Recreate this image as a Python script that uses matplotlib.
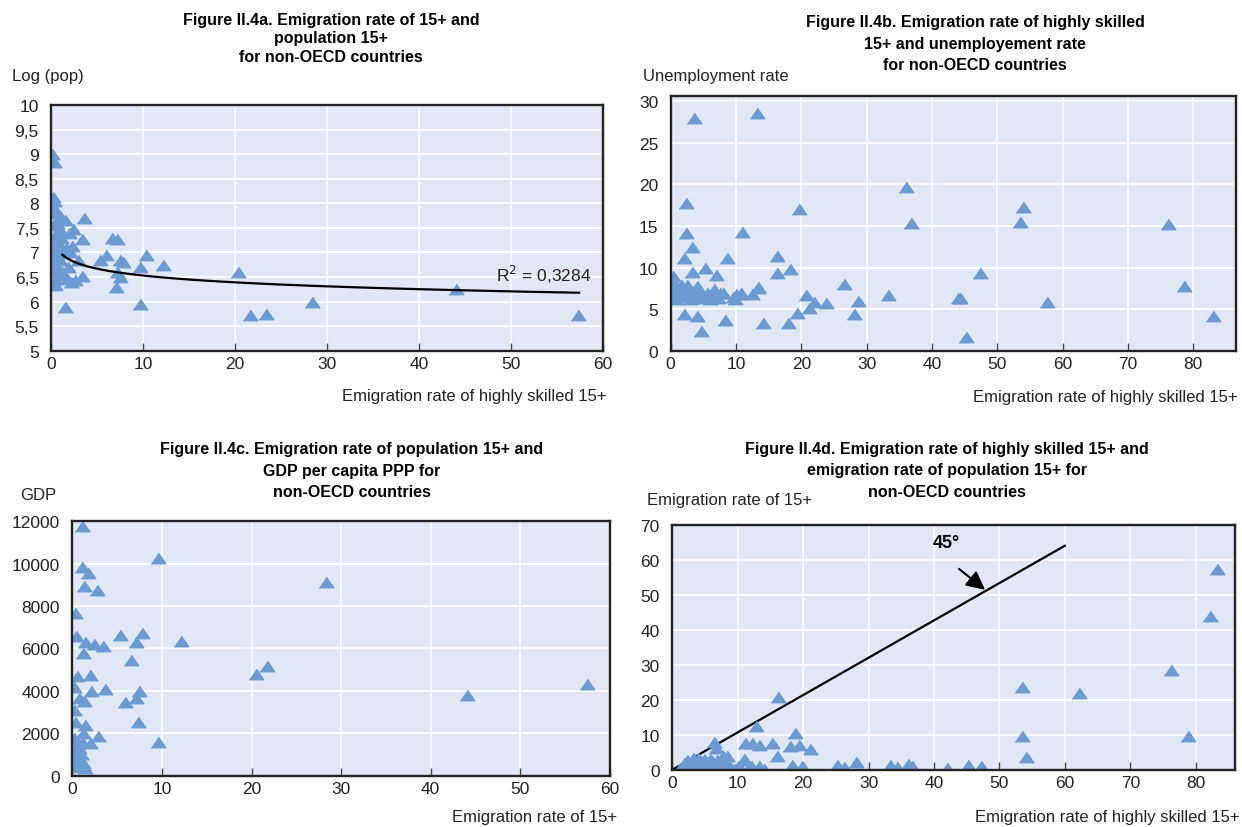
import numpy as np
import matplotlib.pyplot as plt
from matplotlib.ticker import FuncFormatter

plt.rcParams['font.family'] = ['Liberation Sans', 'DejaVu Sans']

# Figure II.4a: emigration rate of highly skilled 15+ vs log population
a_x = [0.1, 0.3, 0.2, 0.3, 0.3, 0.4, 0.2, 0.6, 1.5, 3.6, 2.4, 0.9, 0.3, 1.1, 3.3,
       6.6, 7.1, 0.0, 0.5, 0.95, 2.2, 1.6, 0.2, 0.7, 1.3, 2.0, 0.4, 1.0, 5.9, 5.3,
       2.9, 7.5, 7.8, 10.3, 12.1, 9.6, 0.1, 0.6, 1.8, 7.1, 7.5, 7.0, 3.3, 2.6, 1.7,
       0.4, 0.4, 1.5, 9.6, 20.3, 21.6, 23.3, 28.3, 44.0, 57.3, 0.8, 1.2, 0.2, 2.1,
       0.9, 0.5, 1.9, 0.0]
a_y = [9.0, 8.85, 8.13, 8.05, 7.9, 7.8, 7.55, 7.6, 7.65, 7.7, 7.48, 7.45, 7.3, 7.3, 7.28,
       7.3, 7.27, 7.2, 7.15, 7.14, 7.14, 7.1, 7.05, 7.0, 6.98, 7.0, 6.9, 6.85, 6.94, 6.84,
       6.84, 6.84, 6.8, 6.94, 6.75, 6.7, 6.75, 6.7, 6.7, 6.6, 6.5, 6.29, 6.53, 6.43, 6.46,
       6.46, 6.33, 5.89, 5.95, 6.61, 5.73, 5.75, 5.99, 6.26, 5.73, 6.55, 6.6, 6.6, 6.4,
       7.75, 7.4, 7.4, 6.9]
# logarithmic trend line
trend_a = 6.99
trend_b = -0.20
trend_x = [1.2, 57.4]
r2_label = "R$^2$ = 0,3284"

# Figure II.4b: emigration rate of highly skilled 15+ vs unemployment rate
b_x = [3.5, 13.2, 2.4, 19.7, 36.0, 36.8, 2.4, 10.9, 3.2, 2.1, 8.6, 16.3, 3.2, 5.3,
       7.0, 16.3, 18.3, 0.4, 26.6, 4.0, 13.4, 33.3, 20.7, 21.9, 23.8, 28.6, 21.1, 12.4,
       10.6, 9.9, 7.6, 6.0, 2.1, 4.1, 8.3, 4.6, 14.1, 18.0, 19.3, 28.0, 44.0, 53.9,
       53.5, 76.1, 47.3, 44.3, 57.6, 78.6, 83.0, 45.2, 0.0, 5.6, 6.6, 10.0, 10.7,
       13.3, 0.2, 0.5, 0.8, 1.2, 1.5, 0.3, 0.7, 1.9, 2.3, 2.8, 3.4, 3.8, 4.4, 1.0,
       0.1, 2.5, 3.0, 1.6, 4.0, 5.0, 6.2, 7.2, 8.0, 9.5]
b_y = [28.0, 28.6, 17.8, 17.1, 19.7, 15.4, 14.1, 14.3, 12.5, 11.2, 11.2, 11.4, 9.5, 10.0,
       9.1, 9.3, 9.8, 9.0, 8.0, 7.8, 7.7, 6.7, 6.7, 5.9, 5.8, 6.0, 5.1, 6.8,
       6.8, 6.2, 7.0, 6.2, 4.4, 4.2, 3.7, 2.4, 3.3, 3.3, 4.5, 4.4, 6.4, 17.3,
       15.5, 15.2, 9.3, 6.3, 5.9, 7.8, 4.2, 1.7, 7.8, 7.0, 7.4, 6.8, 7.0,
       7.6, 8.5, 8.0, 7.5, 7.2, 6.8, 6.5, 6.2, 7.6, 6.9, 6.5, 7.2, 6.4, 7.0, 6.6,
       7.1, 7.9, 6.2, 7.9, 6.7, 6.5, 6.6, 6.4, 6.9, 6.5]

# Figure II.4c: emigration rate of population 15+ vs GDP per capita PPP
c_x = [1.05, 9.6, 1.05, 1.8, 1.3, 2.8, 0.3, 28.3, 0.4, 5.3, 7.75, 7.1, 12.1, 1.4,
       2.4, 3.4, 1.15, 6.6, 20.5, 21.7, 0.5, 2.0, 0.2, 3.65, 2.05, 7.4, 7.1, 5.9,
       0.7, 1.3, 0.2, 7.3, 0.3, 1.4, 2.9, 9.6, 2.0, 1.2, 44.1, 57.4, 0.2, 0.5,
       0.3, 0.8, 1.0, 0.4, 0.6, 1.2, 0.3, 0.9, 1.4, 0.5, 1.1, 0.2]
c_y = [11765, 10255, 9830, 9560, 8935, 8775, 7660, 9120, 6600, 6640, 6730, 6290, 6370, 6290,
       6210, 6130, 5790, 5460, 4800, 5160, 4720, 4750, 4200, 4090, 4010, 4010, 3650, 3460,
       3650, 3540, 3080, 2550, 2550, 2390, 1890, 1600, 1530, 2010, 3800, 4330, 1800, 1500,
       1200, 1300, 1000, 900, 700, 600, 500, 400, 350, 1100, 1600, 700]

# Figure II.4d: emigration rate of highly skilled 15+ vs emigration rate of 15+
d_x = [16.1, 12.8, 6.4, 6.7, 11.1, 12.2, 13.2, 15.2, 16.0, 18.7, 18.0, 19.3, 21.0, 10.9,
       8.3, 7.6, 4.0, 13.2, 14.0, 18.3, 19.8, 25.2, 26.3, 28.0, 33.3, 34.4, 36.0, 36.7,
       42.0, 83.3, 82.2, 76.2, 62.2, 53.5, 53.5, 78.8, 54.0, 45.2, 47.2,
       1.0, 1.5, 2.0, 2.5, 3.0, 3.5, 4.0, 4.5, 5.0, 5.5, 6.0, 6.5, 7.0, 7.5, 8.0,
       8.5, 9.0, 9.5, 10.0, 10.5, 2.2, 3.2, 1.8, 4.8, 5.8, 6.8, 11.5, 12.0, 7.8, 3.8,
       3.7, 10.9]
d_y = [20.7, 12.4, 7.8, 6.1, 7.5, 7.5, 7.1, 7.5, 4.0, 10.5, 6.7, 7.1, 5.9, 3.1,
       4.0, 3.5, 3.3, 1.1, 0.2, 1.3, 1.0, 1.3, 0.7, 2.3, 1.3, 0.7, 1.6, 1.1,
       0.4, 57.3, 44.0, 28.6, 21.8, 23.5, 9.7, 9.7, 3.5, 1.4, 1.1,
       0.3, 0.8, 0.5, 1.2, 2.0, 1.0, 0.4, 1.5, 2.2, 1.0, 2.5, 0.6, 1.8, 0.9, 2.6,
       1.3, 0.5, 0.3, 1.0, 0.2, 2.8, 3.3, 1.8, 3.0, 3.2, 2.9, 0.6, 1.2, 3.8, 0.2,
       3.1, 2.8]
diag_x = [0, 60]
diag_y = [0, 64]

titles = {
    'a': ["Figure II.4a. Emigration rate of 15+ and", "population 15+", "for non-OECD countries"],
    'b': ["Figure II.4b. Emigration rate of highly skilled", "15+ and unemployement rate",
          "for non-OECD countries"],
    'c': ["Figure II.4c. Emigration rate of population 15+ and", "GDP per capita PPP for",
          "non-OECD countries"],
    'd': ["Figure II.4d. Emigration rate of highly skilled 15+ and",
          "emigration rate of population 15+ for", "non-OECD countries"],
}

blue = '#6b9bd2'
bg = '#e1e7f4'
ink = '#222222'
tri = [(-1, -0.72), (1, -0.72), (0, 0.72)]


def style(ax, xlim, ylim, xticks, yticks, yfmt=None):
    ax.set_facecolor(bg)
    ax.set_xlim(*xlim)
    ax.set_ylim(*ylim)
    ax.set_xticks(xticks)
    ax.set_yticks(yticks)
    if yfmt:
        ax.yaxis.set_major_formatter(FuncFormatter(yfmt))
    ax.grid(True, color='white', linewidth=1.2)
    ax.set_axisbelow(True)
    for s in ax.spines.values():
        s.set_color(ink)
        s.set_linewidth(1.7)
    ax.tick_params(axis='x', direction='in', length=6, width=1, color='#444444',
                   labelsize=12.5, pad=4, labelcolor=ink)
    ax.tick_params(axis='y', length=0, labelsize=12.5, pad=9, labelcolor=ink)


def title(lines, x, ys):
    for line, y in zip(lines, ys):
        fig.text(x / 1242, 1 - y / 828, line, ha='center', va='center',
                 fontsize=11.5, fontweight='bold', color='black')


def label(s, x, y, ha):
    fig.text(x / 1242, 1 - y / 828, s, ha=ha, va='center', fontsize=12, color=ink)


def scatter(ax, xs, ys):
    ax.plot(xs, ys, linestyle='none', marker=tri, markersize=10.5, color=blue, mec=blue)


fig = plt.figure(figsize=(12.42, 8.28), dpi=100)

# panel a
ax1 = fig.add_axes([0.0413, 0.5752, 0.4442, 0.2968])
style(ax1, (0, 60), (5, 10), range(0, 61, 10), np.arange(5, 10.01, 0.5),
      lambda v, p: ('%g' % v).replace('.', ','))
scatter(ax1, a_x, a_y)
tx = np.linspace(trend_x[0], trend_x[1], 200)
ax1.plot(tx, trend_a + trend_b * np.log(tx), color='black', linewidth=1.6)
ax1.text(48.4, 6.57, r2_label, fontsize=12.5, va='center', ha='left', color=ink)
title(titles['a'], 331, [20, 39, 58])
label("Log (pop)", 12, 77, 'left')
label("Emigration rate of highly skilled 15+", 607, 397, 'right')

# panel b
ax2 = fig.add_axes([0.540, 0.5752, 0.455, 0.3073])
style(ax2, (0, 86.5), (0, 30.6), range(0, 81, 10), range(0, 31, 5))
scatter(ax2, b_x, b_y)
title(titles['b'], 975, [22, 44, 66])
label("Unemployment rate", 643, 76, 'left')
label("Emigration rate of highly skilled 15+", 1238, 398, 'right')

# panel c
ax3 = fig.add_axes([0.0582, 0.0620, 0.4329, 0.3072])
style(ax3, (0, 60), (0, 12000), range(0, 61, 10), range(0, 12001, 2000))
scatter(ax3, c_x, c_y)
title(titles['c'], 352, [450, 472, 493])
label("GDP", 20, 496, 'left')
label("Emigration rate of 15+", 617, 818, 'right')

# panel d
ax4 = fig.add_axes([0.5413, 0.0692, 0.4531, 0.2959])
style(ax4, (0, 86), (0, 70), range(0, 81, 10), range(0, 71, 10))
ax4.plot(diag_x, diag_y, color='black', linewidth=1.6)
scatter(ax4, d_x, d_y)
ax4.text(41.8, 65, "45°", fontsize=13, fontweight='bold', ha='center', va='center')
ax4.annotate('', xy=(47.8, 51.4), xytext=(43.8, 57.4),
             arrowprops=dict(arrowstyle='-|>', color='black', lw=1.5, mutation_scale=28,
                             shrinkA=0, shrinkB=0))
title(titles['d'], 947, [450, 471, 493])
label("Emigration rate of 15+", 647, 501, 'left')
label("Emigration rate of highly skilled 15+", 1240, 818, 'right')

fig.savefig('out.png', dpi=100)
